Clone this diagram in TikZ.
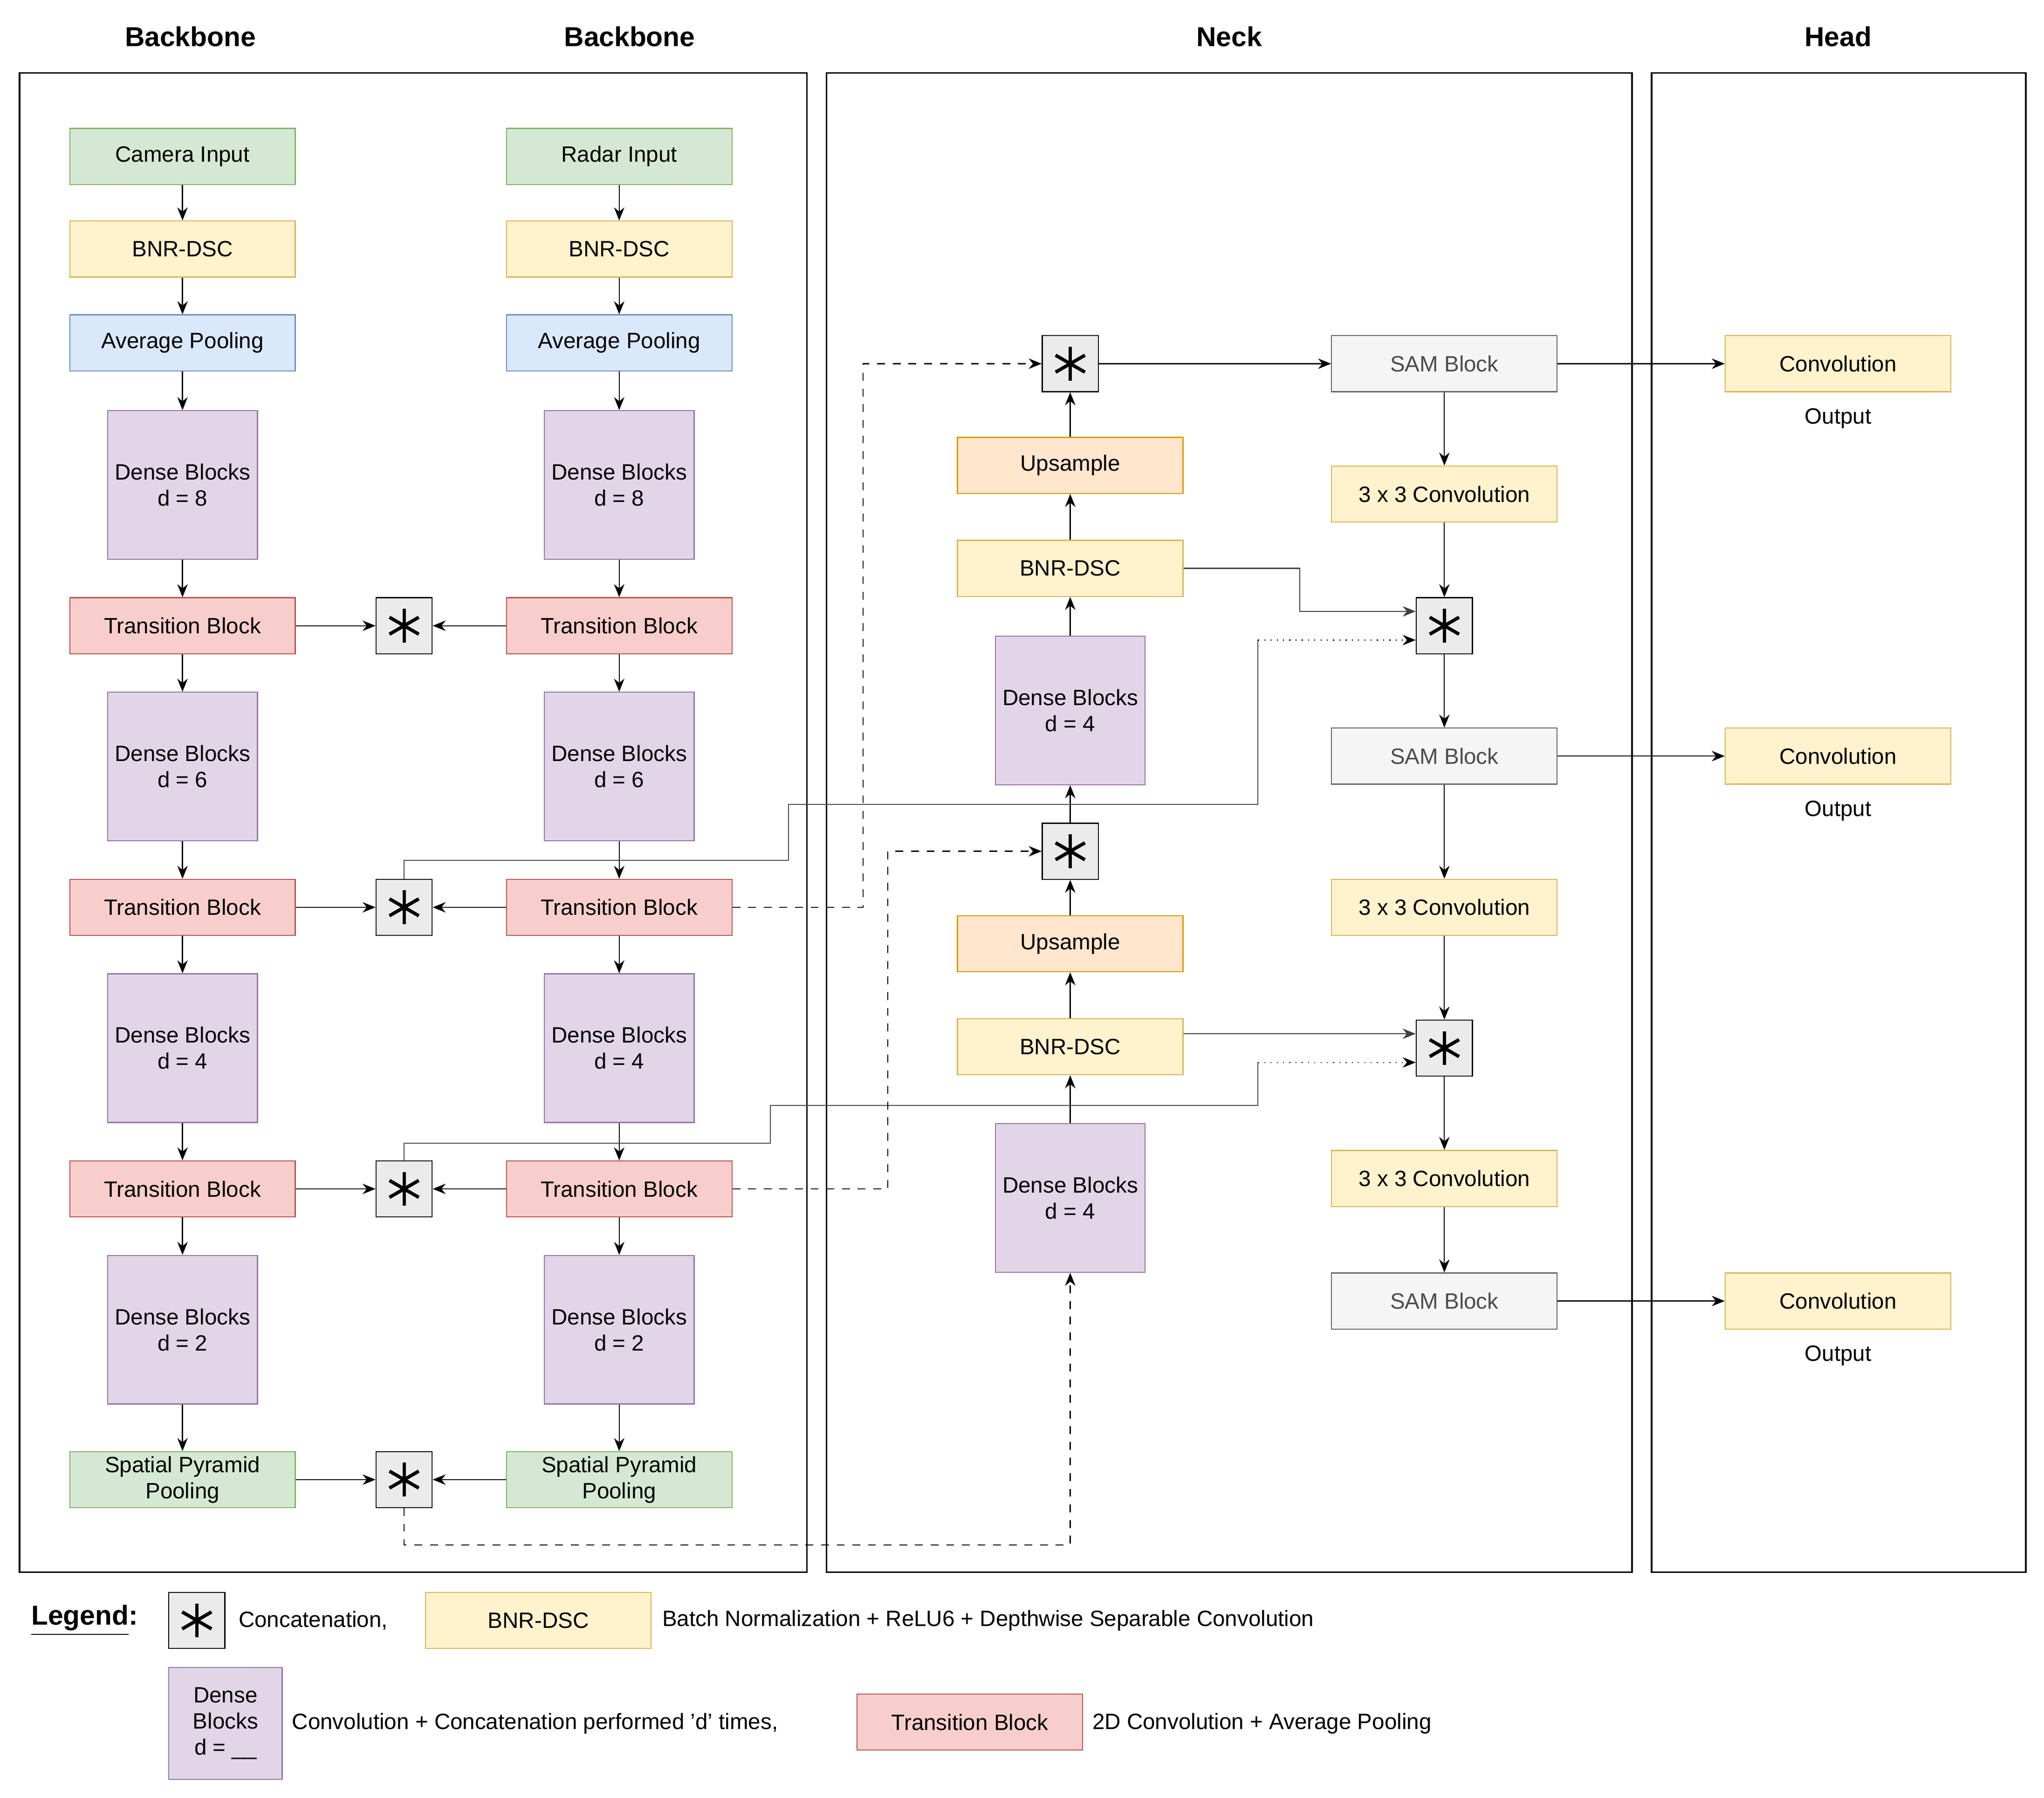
\documentclass[tikz,border=0pt]{standalone}
\usepackage{fontspec}
\setmainfont{Liberation Sans}
\usetikzlibrary{arrows.meta}
\definecolor{gF}{HTML}{D5E8D4}\definecolor{gS}{HTML}{82B366}
\definecolor{yF}{HTML}{FFF2CC}\definecolor{yS}{HTML}{D6B656}
\definecolor{bF}{HTML}{DAE8FC}\definecolor{bS}{HTML}{6C8EBF}
\definecolor{pF}{HTML}{E1D5E7}\definecolor{pS}{HTML}{9673A6}
\definecolor{rF}{HTML}{F8CECC}\definecolor{rS}{HTML}{B85450}
\definecolor{oF}{HTML}{FFE6CC}\definecolor{oS}{HTML}{D79B00}
\definecolor{sF}{HTML}{F5F5F5}\definecolor{sS}{HTML}{666666}
\begin{document}
\begin{tikzpicture}[x=0.5pt,y=-0.5pt,font=\fontsize{8.5}{10}\selectfont,
 box/.style={draw,minimum width=86.5pt,minimum height=21.5pt,inner sep=0pt,align=center},
 grn/.style={box,fill=gF,draw=gS},yel/.style={box,fill=yF,draw=yS},blu/.style={box,fill=bF,draw=bS},
 red/.style={box,fill=rF,draw=rS},org/.style={box,fill=oF,draw=oS},sam/.style={box,fill=sF,draw=sS,text=black!70},
 dense/.style={box,fill=pF,draw=pS,minimum width=57.5pt,minimum height=57pt,align=center},
 cat/.style={draw,fill=black!8,minimum size=21.5pt,inner sep=0pt,path picture={
   \foreach \a in {90,30,150}{\draw[line width=1.3pt] ([shift={(\a:6.5pt)}]path picture bounding box.center)--([shift={(\a+180:6.5pt)}]path picture bounding box.center);}}},
 ar/.style={-{Stealth[length=5pt,width=4pt]}},
 ttl/.style={font=\fontsize{10.5}{12}\selectfont\bfseries},
 frame/.style={draw,line width=0.6pt}]
\useasboundingbox (0,0) rectangle (1568,1379);
% frames
\draw[frame] (15,56) rectangle (619,1206);
\draw[frame] (634,56) rectangle (1252,1206);
\draw[frame] (1267,56) rectangle (1554,1206);
\node[ttl] (t1) at (146,28) {Backbone};
\node[ttl] (t2) at (483,28) {Backbone};
\node[ttl] (t3) at (943,28) {Neck};
\node[ttl] (t4) at (1410,28) {Head};
% backbone columns
\foreach \c/\x/\inp in {a/140/Camera Input,b/475/Radar Input}{
 \node[grn] (\c0) at (\x,120) {\inp};
 \node[yel] (\c1) at (\x,191) {BNR-DSC};
 \node[blu] (\c2) at (\x,263) {Average Pooling};
 \node[dense] (\c3) at (\x,372) {Dense Blocks\\d = 8};
 \node[red] (\c4) at (\x,480) {Transition Block};
 \node[dense] (\c5) at (\x,588) {Dense Blocks\\d = 6};
 \node[red] (\c6) at (\x,696) {Transition Block};
 \node[dense] (\c7) at (\x,804) {Dense Blocks\\d = 4};
 \node[red] (\c8) at (\x,912) {Transition Block};
 \node[dense] (\c9) at (\x,1020) {Dense Blocks\\d = 2};
 \node[grn] (\c10) at (\x,1135) {Spatial Pyramid\\Pooling};
 \foreach \i [evaluate=\i as \j using int(\i+1)] in {0,...,9}{\draw[ar] (\c\i)--(\c\j);}
}
\node[cat] (k1) at (310,480) {};
\node[cat] (k2) at (310,696) {};
\node[cat] (k3) at (310,912) {};
\node[cat] (k4) at (310,1135) {};
\foreach \k/\i in {k1/4,k2/6,k3/8,k4/10}{\draw[ar] (a\i)--(\k); \draw[ar] (b\i)--(\k);}
% neck
\node[cat] (n1) at (821,279) {};
\node[org] (n2) at (821,357) {Upsample};
\node[yel] (n3) at (821,436) {BNR-DSC};
\node[dense] (n4) at (821,545) {Dense Blocks\\d = 4};
\node[cat] (n5) at (821,653) {};
\node[org] (n6) at (821,724) {Upsample};
\node[yel] (n7) at (821,803) {BNR-DSC};
\node[dense] (n8) at (821,919) {Dense Blocks\\d = 4};
\foreach \i/\j in {n8/n7,n7/n6,n6/n5,n5/n4,n4/n3,n3/n2,n2/n1}{\draw[ar] (\i)--(\j);}
\node[sam] (m1) at (1108,279) {SAM Block};
\node[yel] (m2) at (1108,379) {3 x 3 Convolution};
\node[cat] (m3) at (1108,480) {};
\node[sam] (m4) at (1108,580) {SAM Block};
\node[yel] (m5) at (1108,696) {3 x 3 Convolution};
\node[cat] (m6) at (1108,804) {};
\node[yel] (m7) at (1108,904) {3 x 3 Convolution};
\node[sam] (m8) at (1108,998) {SAM Block};
\foreach \i/\j in {m1/m2,m2/m3,m3/m4,m4/m5,m5/m6,m6/m7,m7/m8}{\draw[ar] (\i)--(\j);}
\draw[ar] (n1)--(m1);
% head
\foreach \i/\y/\m in {1/279/m1,2/580/m4,3/998/m8}{
 \node[yel] (h\i) at (1410,\y) {Convolution};
 \node (o\i) at (1410,\y+42) {Output};
 \draw[ar] (\m)--(h\i);}
% skip connections
\coordinate (m3a) at (1086,469); \coordinate (m3b) at (1086,491);
\coordinate (m6a) at (1086,793); \coordinate (m6b) at (1086,815);
\draw[ar,black!75] (n3.east)--(997,436)--(997,469)--(m3a);
\draw[ar,black!75] (n7.east|-m6a)--(m6a);
\draw[black!70] (k2.north)--(310,660)--(605,660)--(605,617)--(965,617)--(965,491);
\draw[ar,dotted] (965,491)--(m3b);
\draw[black!70] (k3.north)--(310,877)--(591,877)--(591,848)--(965,848)--(965,815);
\draw[ar,dotted] (965,815)--(m6b);
\draw[ar,dashed] (b6.east)--(662,696)--(662,279)--(n1.west);
\draw[ar,dashed] (b8.east)--(681,912)--(681,653)--(n5.west);
\draw[ar,dashed] (k4.south)--(310,1185)--(821,1185)--(n8.south);
% legend
\node[font=\fontsize{10.5}{12}\selectfont\bfseries,anchor=west] (lg) at (17,1243) {\underline{Legend}:};
\node[cat] (lc) at (151,1243) {};
\node[anchor=west] (lt1) at (176,1243) {Concatenation,};
\node[yel] (lb) at (413,1243) {BNR-DSC};
\node[anchor=west] (lt2) at (501,1243) {Batch Normalization + ReLU6 + Depthwise Separable Convolution};
\node[box,fill=pF,draw=pS,minimum width=43.5pt,minimum height=43pt] (ld) at (173,1322) {Dense\\Blocks\\d = \_\_};
\node[anchor=west] (lt3) at (217,1322) {Convolution + Concatenation performed 'd' times,};
\node[red] (lr) at (744,1321) {Transition Block};
\node[anchor=west] (lt4) at (831,1322) {2D Convolution + Average Pooling};
\end{tikzpicture}
\end{document}
